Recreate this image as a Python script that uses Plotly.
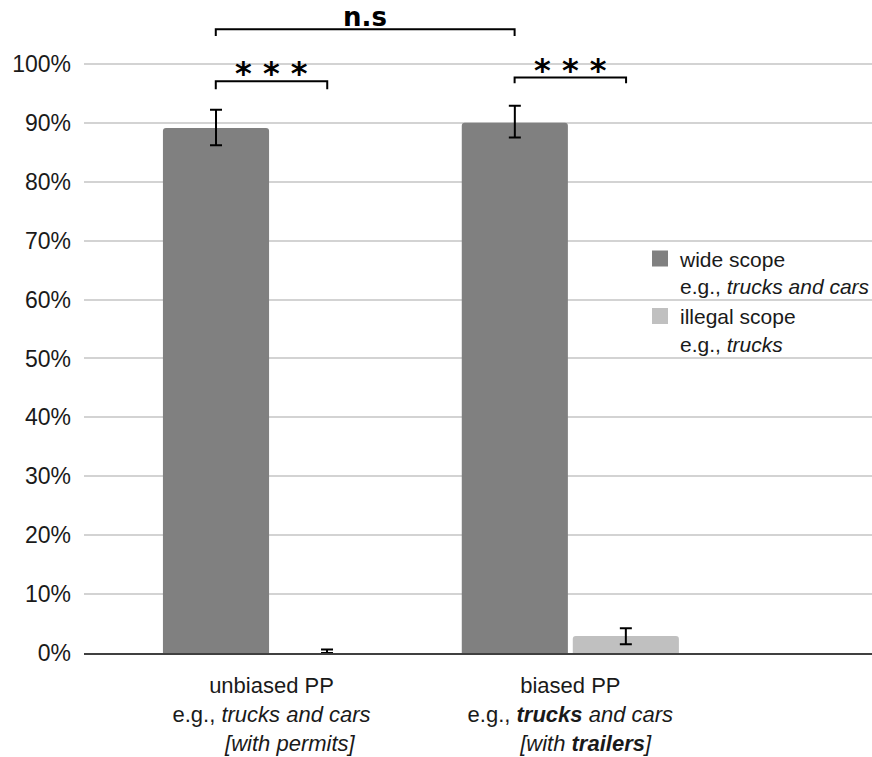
import plotly.graph_objects as go

# ---- data ----
categories = [
    "unbiased PP<br>e.g., <i>trucks and cars</i><br>\u00a0\u00a0\u00a0\u00a0\u00a0\u00a0<i>[with permits]</i>",
    "biased PP<br>e.g., <b><i>trucks</i></b><i> and cars</i><br>\u00a0\u00a0\u00a0\u00a0\u00a0<i>[with <b>trailers</b>]</i>",
]
series_names = [
    "wide scope<br>e.g., <i>trucks and cars</i>",
    "illegal scope<br>e.g., <i>trucks</i>",
]
wide_values = [89.1, 90.0]
wide_err_plus = [3.1, 2.9]
wide_err_minus = [2.9, 2.5]
illegal_values = [0.0, 2.9]
illegal_err_plus = [0.6, 1.3]
illegal_err_minus = [0.0, 1.4]

y_ticks = [0, 10, 20, 30, 40, 50, 60, 70, 80, 90, 100]
y_tick_text = [f"{v}%" for v in y_ticks]

# significance brackets
sig_labels = ["n.s", "* * *", "* * *"]
sig_x0 = [-0.1865, -0.1865, 0.8135]
sig_x1 = [0.8135, 0.1865, 1.1865]
sig_y = [105.9, 97.06, 97.7]
sig_ytick = [104.75, 95.7, 96.7]
sig_label_y = [108.0, 98.4, 99.0]

colors = ["#808080", "#c0c0c0"]

fig = go.Figure()
fig.add_trace(go.Bar(
    x=categories, y=wide_values, name=series_names[0], showlegend=False,
    marker=dict(color=colors[0], cornerradius=3, line=dict(width=0)),
    error_y=dict(type="data", symmetric=False, array=wide_err_plus,
                 arrayminus=wide_err_minus, color="#000000", thickness=2, width=6),
))
fig.add_trace(go.Bar(
    x=categories, y=illegal_values, name=series_names[1], showlegend=False,
    marker=dict(color=colors[1], cornerradius=3, line=dict(width=0)),
    error_y=dict(type="data", symmetric=False, array=illegal_err_plus,
                 arrayminus=illegal_err_minus, color="#000000", thickness=2, width=6),
))
# legend proxies (larger square swatches)
for name, col in zip(series_names, colors):
    fig.add_trace(go.Scatter(
        x=[None], y=[None], mode="markers", name=name,
        marker=dict(symbol="square", size=16, color=col),
    ))

for i in range(len(sig_labels)):
    fig.add_shape(type="path", xref="x", yref="y",
                  path=f"M {sig_x0[i]},{sig_ytick[i]} L {sig_x0[i]},{sig_y[i]} L {sig_x1[i]},{sig_y[i]} L {sig_x1[i]},{sig_ytick[i]}",
                  line=dict(color="#000000", width=2))
    is_ns = sig_labels[i] == "n.s"
    fig.add_annotation(x=(sig_x0[i] + sig_x1[i]) / 2, y=sig_label_y[i], xref="x", yref="y",
                       text=f"<b>{sig_labels[i]}</b>", showarrow=False,
                       yanchor="middle",
                       font=dict(family="DejaVu Sans", size=26 if is_ns else 32, color="#000000"))

fig.update_layout(
    width=872, height=757,
    margin=dict(l=84, r=0, t=5, b=104, autoexpand=False),
    paper_bgcolor="white", plot_bgcolor="white",
    barmode="group", bargap=0.257, bargroupgap=0.044,
    font=dict(family="Liberation Sans", color="#1a1a1a"),
    legend=dict(x=0.7056, y=0.64, xanchor="left", yanchor="top",
                valign="top", bgcolor="rgba(0,0,0,0)",
                font=dict(size=21, color="#1a1a1a"), tracegroupgap=2),
    xaxis=dict(type="category", range=[-0.6275, 2.0095],
               showline=True, linecolor="#404040", linewidth=2,
               tickfont=dict(size=22, color="#1a1a1a"), ticks="",
               ticklabelstandoff=12),
    yaxis=dict(range=[0, 110], tickvals=y_ticks, ticktext=y_tick_text,
               showgrid=True, gridcolor="#d3d3d3", gridwidth=2,
               zeroline=False, showline=False, ticklabelstandoff=12,
               tickfont=dict(size=23, color="#1a1a1a")),
)

fig.write_html("out.html")
